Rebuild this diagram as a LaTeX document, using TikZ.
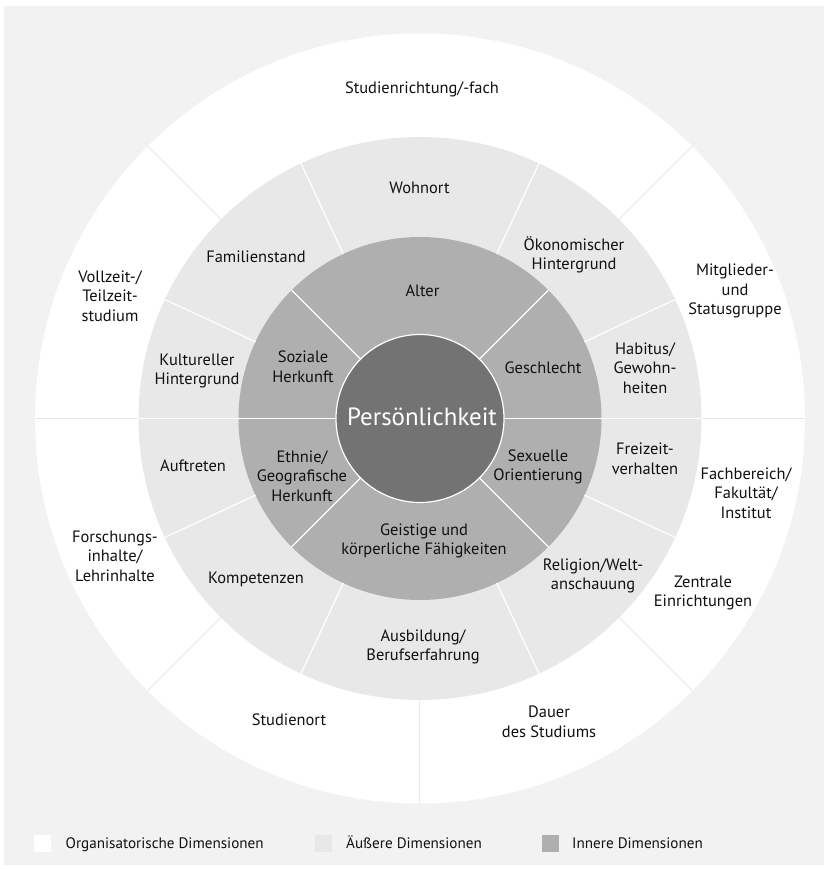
\documentclass[tikz,border=0pt]{standalone}
\usepackage{fontspec}
\setmainfont{PT Sans}
\definecolor{panelgray}{HTML}{F2F2F2}
\definecolor{orgring}{HTML}{FFFFFF}
\definecolor{outerring}{HTML}{E8E8E8}
\definecolor{innerring}{HTML}{AFAFAF}
\definecolor{corefill}{HTML}{737373}
\definecolor{seporg}{HTML}{E8E8E8}
\definecolor{labeltext}{HTML}{111111}
\begin{document}
\begin{tikzpicture}[x=1bp,y=1bp,
  lbl/.style={font=\fontsize{16.5}{19.6}\selectfont, align=center, text=labeltext, inner sep=0pt},
  legtxt/.style={font=\fontsize{15.2}{17}\selectfont, text=labeltext, inner sep=0pt, anchor=base west},
  legbox/.style={minimum width=17bp, minimum height=17bp, inner sep=0pt, draw=none},
  sepw/.style={draw=white, line width=1.2bp},
  sepg/.style={draw=seporg, line width=1bp}]
\pgfmathsetmacro{\Ra}{385}
\pgfmathsetmacro{\Rb}{281.5}
\pgfmathsetmacro{\Rc}{181.5}
\pgfmathsetmacro{\Rd}{84}
\useasboundingbox (-420,-450.5) rectangle (404,418.5);
% background panel
\fill[panelgray] (-416,-446.5) rectangle (404,412.5);
% rings
\fill[orgring] (0,0) circle (\Ra);
\fill[outerring] (0,0) circle (\Rb);
\fill[innerring] (0,0) circle (\Rc);
% separators of the organisational ring
\foreach \a in {0,45,135,180,225,270,315}
  \draw[sepg] (\a:\Rb) -- (\a:\Ra);
% separators of the outer dimensions
\foreach \a in {0,25,65,115,155,180,205,245,295,335}
  \draw[sepw] (\a:\Rc) -- (\a:\Rb);
% separators of the inner dimensions
\foreach \a in {0,45,135,180,225,315}
  \draw[sepw] (\a:\Rd) -- (\a:\Rc);
% core
\node[circle, fill=corefill, draw=white, line width=1.2bp, minimum size=2*\Rd bp, inner sep=0pt] (core) at (0,0) {};
\node[font=\fontsize{25}{29}\selectfont, text=white, inner sep=0pt] (pers) at (2,1.5) {Persönlichkeit};

% organisational dimensions
\node[lbl] (studfach) at (2,329.5) {Studienrichtung/-fach};
\node[lbl] (vollzeit) at (-310,122.5) {Vollzeit-/\\Teilzeit-\\studium};
\node[lbl] (mitgl) at (315,127.5) {Mitglieder-\\und\\Statusgruppe};
\node[lbl] (fachb) at (326,-74.5) {Fachbereich/\\Fakultät/\\Institut};
\node[lbl] (zentr) at (283,-174.5) {Zentrale\\Einrichtungen};
\node[lbl] (dauer) at (129,-303.5) {Dauer\\des Studiums};
\node[lbl] (ort) at (-131,-301.5) {Studienort};
\node[lbl] (forsch) at (-305,-137.5) {Forschungs-\\inhalte/\\Lehrinhalte};

% outer dimensions
\node[lbl] (wohn) at (-0.5,230.5) {Wohnort};
\node[lbl] (famil) at (-164,161.5) {Familienstand};
\node[lbl] (oekon) at (154,163.5) {Ökonomischer\\Hintergrund};
\node[lbl] (kultur) at (-223,47.5) {Kultureller\\Hintergrund};
\node[lbl] (habit) at (225,50.5) {Habitus/\\Gewohn-\\heiten};
\node[lbl] (auftr) at (-227,-47.5) {Auftreten};
\node[lbl] (freiz) at (225,-40.5) {Freizeit-\\verhalten};
\node[lbl] (kompet) at (-164,-160.5) {Kompetenzen};
\node[lbl] (relig) at (173,-157.5) {Religion/Welt-\\anschauung};
\node[lbl] (ausb) at (3,-228.5) {Ausbildung/\\Berufserfahrung};

% inner dimensions
\node[lbl] (alter) at (2.5,127.5) {Alter};
\node[lbl] (sozial) at (-117,51.5) {Soziale\\Herkunft};
\node[lbl] (geschl) at (123,50.5) {Geschlecht};
\node[lbl] (ethnie) at (-118,-57.5) {Ethnie/\\Geografische\\Herkunft};
\node[lbl] (sexor) at (118,-48.5) {Sexuelle\\Orientierung};
\node[lbl] (geist) at (4,-122.5) {Geistige und\\körperliche Fähigkeiten};

% legend
\node[legbox, fill=orgring] (legA) at (-377,-424.5) {};
\node[legtxt] (legAt) at (-354.5,-429.5) {Organisatorische Dimensionen};
\node[legbox, fill=outerring] (legB) at (-96.5,-424.5) {};
\node[legtxt] (legBt) at (-74,-429.5) {Äußere Dimensionen};
\node[legbox, fill=innerring] (legC) at (130,-424.5) {};
\node[legtxt] (legCt) at (152,-429.5) {Innere Dimensionen};
\end{tikzpicture}
\end{document}
